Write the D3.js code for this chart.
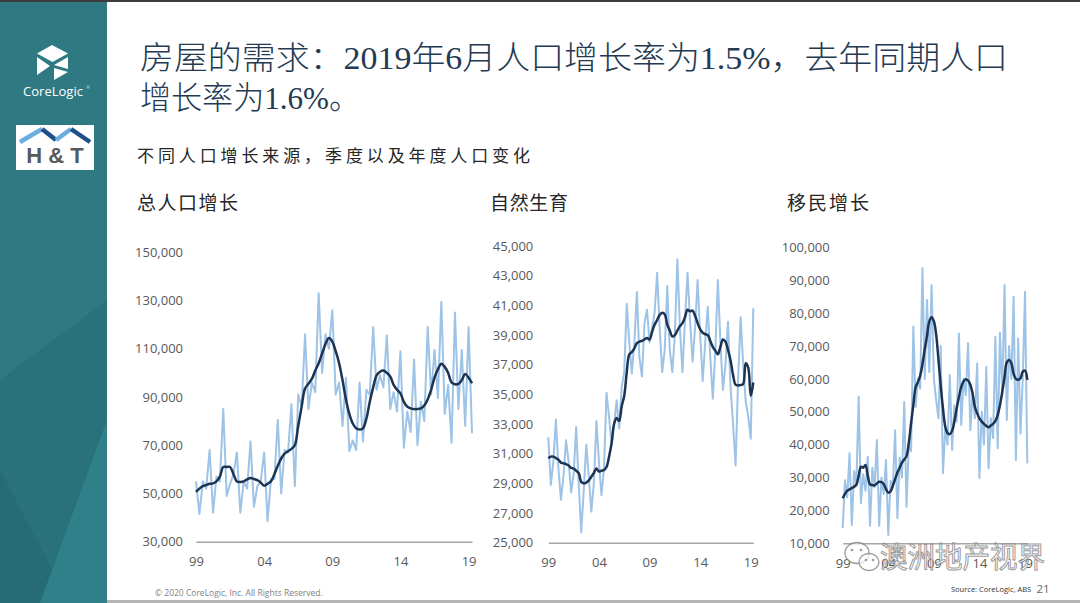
<!DOCTYPE html>
<html>
<head>
<meta charset="utf-8">
<script src="https://cdn.jsdelivr.net/npm/d3@7"></script>
<style>
  body { margin: 0; background: #fff; }
  #chart { width: 1080px; height: 603px; overflow: hidden; }
</style>
</head>
<body>
<div id="chart"></div>
<script>
// Quarterly categories, Mar-1999 .. Jun-2019 (82 quarters)
const quarters = d3.range(82).map(i => `${1999 + Math.floor(i / 4)}Q${(i % 4) + 1}`);
const tickQuarters = ["1999Q1", "2004Q1", "2009Q1", "2014Q1", "2019Q1"];
const tickLabels = ["99", "04", "09", "14", "19"];

// All values in thousands of persons
// 总人口增长 - quarterly (light) and annualised trend (dark)
const totalQuarterly = [
  55, 41.5, 55, 52, 68, 42, 57, 55, 85, 49,
  54, 58, 67, 42, 55, 52, 71.5, 44.5, 53, 55,
  67, 38.5, 56, 56, 80.5, 50, 68, 67, 87, 53,
  91, 86, 116, 85, 96, 92, 133, 100, 116, 110,
  126, 91, 96, 78, 98, 67.5, 72, 68, 96, 71.5,
  93, 91, 119, 93, 99, 94, 115.5, 85, 92, 84,
  109, 69, 84, 75.5, 105.5, 70, 88, 80, 119, 91,
  109.5, 89.5, 129.5, 83, 95, 71, 125, 85, 109.5, 78,
  119, 75
];
const totalAnnual = [
  50.7, 52, 53, 53.5, 54, 54.2, 55, 57, 61, 61,
  61, 58, 55, 54.8, 55, 55.8, 56.4, 56, 55.5, 54.5,
  53.2, 54, 55, 58, 61.5, 64.5, 66.5, 67.5, 68.5, 70,
  78, 86, 93.5, 95.5, 97.5, 101, 104, 108, 112, 114.5,
  113, 109, 104, 97, 89, 83, 79, 77, 76.5, 77,
  81, 88, 94, 99, 100.5, 101, 100, 98.5, 95, 93,
  91.5, 88, 86, 85.3, 85, 85, 85.3, 86.5, 89, 93,
  98, 101.5, 103.8, 102.5, 100, 96, 95.3, 95.4, 97, 99.5,
  98, 95.7
];

// 自然生育
const naturalQuarterly = [
  32.1, 28.9, 30.5, 33.3, 30.0, 27.9, 29.5, 31.9, 30.5, 28.4,
  29.6, 32.8, 29.0, 25.7, 28.5, 31.6, 29.5, 27.1, 29.0, 33.2,
  30.5, 28.2, 30.0, 35.1, 33.5, 31.6, 33.0, 34.6, 32.7, 35.5,
  36.5, 41.1, 38.5, 36.4, 38.5, 41.9, 37.5, 36.2, 39.8, 40.7,
  38.5, 39.5, 40.5, 43.2, 39.5, 36.5, 38.0, 42.3, 38.0, 36.5,
  39.0, 44.1, 39.5, 36.5, 40.0, 43.2, 40.0, 37.2, 39.5, 42.7,
  39.0, 35.9, 38.5, 40.9, 37.5, 34.7, 38.0, 42.7, 38.5, 35.3,
  37.0, 39.9, 35.5, 33.0, 30.2, 36.0, 40.2, 37.0, 34.5, 33.5,
  32.0, 40.8
];
const naturalAnnual = [
  30.7, 30.8, 30.8, 30.7, 30.6, 30.4, 30.35, 30.3, 30.2, 30.05,
  30.0, 29.85, 29.7, 29.1, 29.0, 29.05, 29.2, 29.45, 29.7, 30.0,
  29.8, 29.85, 29.9, 30.1, 30.8, 31.7, 33.0, 33.4, 33.2, 34.2,
  34.9, 36.5, 37.7, 37.85, 38.1, 38.45, 38.55, 38.6, 38.7, 38.8,
  38.7, 39.2, 39.7, 40.0, 40.35, 40.5, 40.4, 39.7, 39.3, 38.9,
  39.0, 39.3, 39.6, 39.8, 40.2, 40.7, 40.6, 40.65, 40.3, 39.8,
  39.4, 39.15, 39.05, 39.0, 38.6, 38.2, 37.95, 37.7, 38.2, 38.7,
  38.55, 38.0, 37.3, 36.3, 35.65, 35.6, 35.63, 35.7, 37.1, 36.8,
  34.9, 35.8
];

// 移民增长
const migrationQuarterly = [
  14.6, 29.2, 24, 37.4, 15.6, 32, 28, 54.6, 22.2, 31,
  26, 36.3, 15.3, 33, 27, 41.4, 15.3, 30, 25, 35.3,
  12.5, 29, 27, 44.4, 17.6, 36, 30, 53.0, 21.1, 40,
  38, 75.9, 51.5, 60, 57, 93.6, 60, 84, 62, 88.5,
  60, 53.6, 48, 70, 31.3, 45, 40, 61.2, 38.4, 52,
  47, 73.8, 46, 60, 55, 70.8, 44.4, 56, 48, 64.7,
  29.8, 50, 40, 63.7, 32.8, 48, 42, 72.8, 38.9, 74,
  55, 88.5, 47.5, 70, 60, 85, 35.3, 72.3, 43.4, 60,
  86.5, 34.3
];
const migrationAnnual = [
  23.7, 25, 26, 26.4, 26.8, 27.2, 27.8, 30.5, 33.3, 33.0,
  33.8, 30.5, 27.9, 27.7, 27.6, 28.2, 28.7, 28.6, 28.0, 26.5,
  25.4, 25.8, 27.5, 29.5, 31.5, 33.0, 34.5, 35.5, 36.5, 40.5,
  46.5, 52, 57.5, 59, 61, 64.5, 69, 73, 77.5, 78.7,
  77.5, 73.5, 66, 58, 51, 45.5, 43.5, 43.2, 44.2, 47,
  51, 54.5, 57.5, 59.2, 59.9, 59.5, 58.2, 55.5, 51.5, 49.5,
  48, 47, 46.3, 45.7, 45.3, 45.8, 46.3, 47.2, 49, 52,
  56, 60.5, 65, 65.7, 64.8, 61.5, 60, 59.7, 60.2, 62.2,
  62.5, 59.7
];

const totalTicks = [30, 50, 70, 90, 110, 130, 150];
const naturalTicks = [25, 27, 29, 31, 33, 35, 37, 39, 41, 43, 45];
const migrationTicks = [10, 20, 30, 40, 50, 60, 70, 80, 90, 100];

const cjk = "'Noto Sans CJK SC', 'Noto Sans', sans-serif";
const serifCjk = "'Liberation Serif', 'Noto Sans CJK SC', serif";
const tickFont = "'Open Sans', 'Liberation Sans', sans-serif";

const svg = d3.select("#chart")
  .append("svg")
  .attr("width", 1080)
  .attr("height", 603);

svg.append("rect").attr("width", 1080).attr("height", 603).attr("fill", "#fff");

// ---- left sidebar ----
svg.append("rect").attr("x", 0).attr("y", 0).attr("width", 107).attr("height", 603).attr("fill", "#2e7982");
svg.append("polygon").attr("points", "0,380 107,300 107,603 0,603").attr("fill", "#2a727b");
svg.append("polygon").attr("points", "0,470 70,603 0,603").attr("fill", "#276c75");
svg.append("polygon").attr("points", "107,420 40,603 107,603").attr("fill", "#30808a");

// CoreLogic mark
const mark = svg.append("g").attr("fill", "#fff");
mark.append("polygon").attr("points", "52,45 68,53.5 52.5,62 37,53.5");
mark.append("polygon").attr("points", "37,57 37,75 50,66");
mark.append("polygon").attr("points", "54,65 68,57 68,69");
mark.append("polygon").attr("points", "54,68 68,72 54,80");
svg.append("text").attr("x", 53).attr("y", 96).attr("text-anchor", "middle")
  .attr("fill", "#fff").style("font-family", tickFont).style("font-size", "13px")
  .text("CoreLogic");
svg.append("text").attr("x", 86.5).attr("y", 89).attr("fill", "#fff")
  .style("font-family", tickFont).style("font-size", "3.5px").text("®");

// H&T logo
svg.append("rect").attr("x", 16).attr("y", 125).attr("width", 78).attr("height", 45).attr("fill", "#fff");
const roof = svg.append("g").attr("stroke-width", 4.5).attr("fill", "none");
roof.append("line").attr("x1", 20).attr("y1", 142).attr("x2", 42).attr("y2", 129).attr("stroke", "#6aaee0");
roof.append("line").attr("x1", 42).attr("y1", 129).attr("x2", 56).attr("y2", 140).attr("stroke", "#1f4e8c");
roof.append("line").attr("x1", 56).attr("y1", 140).attr("x2", 71).attr("y2", 129).attr("stroke", "#6aaee0");
roof.append("line").attr("x1", 71).attr("y1", 129).attr("x2", 90).attr("y2", 142).attr("stroke", "#1f4e8c");
svg.append("text").attr("x", 55).attr("y", 163).attr("text-anchor", "middle")
  .attr("fill", "#58595b").style("font-family", "'Liberation Sans', sans-serif")
  .style("font-size", "22px").style("font-weight", "bold").text("H & T");

// top and bottom rules
svg.append("rect").attr("x", 0).attr("y", 0).attr("width", 1080).attr("height", 2).attr("fill", "#3c3c3c");
svg.append("rect").attr("x", 107).attr("y", 600).attr("width", 973).attr("height", 3).attr("fill", "#b5b5b5");

// ---- titles ----
svg.append("text").attr("x", 140).attr("y", 69)
  .attr("textLength", 868).attr("lengthAdjust", "spacingAndGlyphs")
  .attr("fill", "#243a52").style("font-family", serifCjk).style("font-size", "32px")
  .style("font-weight", 300)
  .text("房屋的需求：2019年6月人口增长率为1.5%，去年同期人口");
svg.append("text").attr("x", 140).attr("y", 109)
  .attr("textLength", 220).attr("lengthAdjust", "spacingAndGlyphs")
  .attr("fill", "#243a52").style("font-family", serifCjk).style("font-size", "32px")
  .style("font-weight", 300)
  .text("增长率为1.6%。");

svg.append("text").attr("x", 137).attr("y", 162)
  .attr("textLength", 393).attr("lengthAdjust", "spacing")
  .attr("fill", "#262626").style("font-family", cjk).style("font-size", "17px")
  .text("不同人口增长来源，季度以及年度人口变化");

const panelTitles = [
  { text: "总人口增长", x: 137, len: 101 },
  { text: "自然生育", x: 490, len: 78 },
  { text: "移民增长", x: 787, len: 82 }
];
panelTitles.forEach(t => {
  svg.append("text").attr("x", t.x).attr("y", 210)
    .attr("textLength", t.len).attr("lengthAdjust", "spacing")
    .attr("fill", "#262626").style("font-family", cjk).style("font-size", "19px")
    .text(t.text);
});

// ---- panels ----
function drawPanel(p) {
  const x = d3.scalePoint().domain(quarters).range(p.xRange);
  const y = d3.scaleLinear().domain(p.yDomain).range(p.yRange);
  const g = svg.append("g");

  // Y-axis labels
  g.append("g")
    .attr("transform", `translate(${p.xRange[0]}, 0)`)
    .call(d3.axisLeft(y).tickValues(p.yTicks).tickSize(0).tickPadding(p.yPad)
      .tickFormat(d => d3.format(",")(d * 1000)))
    .call(a => a.select(".domain").remove())
    .selectAll("text")
    .attr("fill", "#595959")
    .style("font-family", tickFont)
    .style("font-size", "13px");

  // X-axis
  g.append("g")
    .attr("transform", `translate(0, ${p.yRange[0]})`)
    .call(d3.axisBottom(x).tickValues(tickQuarters).tickSize(0).tickPadding(15)
      .tickFormat((d, i) => tickLabels[i]))
    .call(a => a.select(".domain").attr("stroke", "#a6a6a6").attr("stroke-width", 1.5))
    .selectAll("text")
    .attr("fill", "#595959")
    .style("font-family", tickFont)
    .style("font-size", "13px");

  const line = d3.line().x((d, i) => x(quarters[i])).y(d => y(d));

  g.append("path")
    .datum(p.quarterly)
    .attr("fill", "none")
    .attr("stroke", "#9dc3e6")
    .attr("stroke-width", 2)
    .attr("stroke-linejoin", "round")
    .attr("d", line);

  g.append("path")
    .datum(p.annual)
    .attr("fill", "none")
    .attr("stroke", "#1c3452")
    .attr("stroke-width", 2.5)
    .attr("stroke-linejoin", "round")
    .attr("d", line.curve(d3.curveCatmullRom.alpha(0.5)));
}

drawPanel({ xRange: [196, 472], yDomain: [30, 150], yRange: [541.7, 252.3], yTicks: totalTicks, yPad: 13,
  quarterly: totalQuarterly, annual: totalAnnual });
drawPanel({ xRange: [548.3, 753.3], yDomain: [25, 45], yRange: [542.7, 246], yTicks: naturalTicks, yPad: 15,
  quarterly: naturalQuarterly, annual: naturalAnnual });
drawPanel({ xRange: [842.7, 1027.3], yDomain: [10, 100], yRange: [543.3, 247.3], yTicks: migrationTicks, yPad: 13,
  quarterly: migrationQuarterly, annual: migrationAnnual });

// ---- WeChat watermark (overlays the third panel's axis, as in the source image) ----
const wm = svg.append("g").attr("opacity", 0.85);
wm.append("ellipse").attr("cx", 857).attr("cy", 553).attr("rx", 12).attr("ry", 10.5)
  .attr("fill", "rgba(255,255,255,0.7)").attr("stroke", "#8c8c8c").attr("stroke-width", 1.3);
wm.append("ellipse").attr("cx", 869).attr("cy", 562).attr("rx", 10).attr("ry", 8.5)
  .attr("fill", "rgba(255,255,255,0.7)").attr("stroke", "#8c8c8c").attr("stroke-width", 1.3);
[[852, 550], [861, 550], [866, 560], [873, 560]].forEach(([cx, cy]) => {
  wm.append("circle").attr("cx", cx).attr("cy", cy).attr("r", 1.3).attr("fill", "#8c8c8c");
});
wm.append("text").attr("x", 880).attr("y", 568)
  .attr("textLength", 165).attr("lengthAdjust", "spacingAndGlyphs")
  .attr("fill", "rgba(255,255,255,0.75)").attr("stroke", "#8a8a8a").attr("stroke-width", 1)
  .style("font-family", cjk).style("font-size", "29px")
  .text("澳洲地产视界");

// ---- footer ----
svg.append("text").attr("x", 155).attr("y", 596)
  .attr("fill", "#7f7f7f").style("font-family", tickFont).style("font-size", "8.5px")
  .text("© 2020 CoreLogic,  Inc. All Rights Reserved.");
svg.append("text").attr("x", 951).attr("y", 592)
  .attr("fill", "#333").style("font-family", tickFont).style("font-size", "7.5px")
  .text("Source: CoreLogic, ABS");
svg.append("text").attr("x", 1043).attr("y", 593).attr("text-anchor", "middle")
  .attr("fill", "#666").style("font-family", tickFont).style("font-size", "11.5px")
  .text("21");
</script>
</body>
</html>
